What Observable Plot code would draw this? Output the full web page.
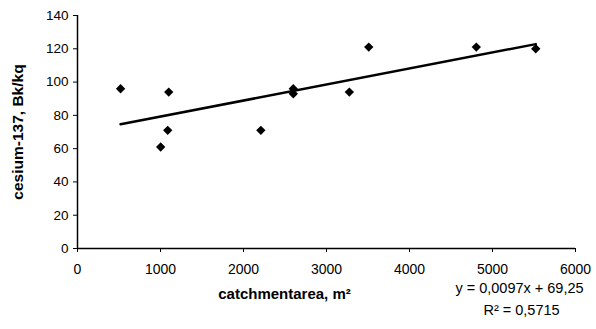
<!DOCTYPE html>
<html><head><meta charset="utf-8">
<script src="https://cdn.jsdelivr.net/npm/d3@7"></script>
<script src="https://cdn.jsdelivr.net/npm/@observablehq/plot@0.6"></script>
<style>body{margin:0;background:#fff}</style></head>
<body><div id="chart"></div>
<script>
const area = [519, 1099, 1087, 1002, 2209, 2600, 2600, 3275, 3509, 4805, 5521];
const cesium = [96, 94, 71, 61, 71, 96, 93, 94, 121, 121, 120];
const xTicks = [0, 1000, 2000, 3000, 4000, 5000, 6000];
const yTicks = [0, 20, 40, 60, 80, 100, 120, 140];
const xLabel = "catchmentarea, m²";
const yLabel = "cesium-137, Bk/kq";
const equation = ["y = 0,0097x + 69,25", "R² = 0,5715"];

const data = area.map((a, i) => ({area: a, cesium: cesium[i]}));

const chart = Plot.plot({
  width: 596, height: 329,
  marginLeft: 77, marginRight: 21, marginTop: 15, marginBottom: 81,
  style: {fontFamily: "'Liberation Sans', Arial, sans-serif", fontSize: "13px", background: "#fff", color: "#000"},
  x: {domain: [0, 6000]},
  y: {domain: [0, 140]},
  marks: [
    Plot.axisX({ticks: xTicks, tickSize: 4, tickPadding: 12, tickFormat: d3.format("d"), label: null, stroke: "#000", fontSize: 14}),
    Plot.axisY({ticks: yTicks, tickSize: 4, tickPadding: 5, label: null, stroke: "#000", fontSize: 13.5}),
    Plot.ruleY([0], {stroke: "#000", strokeWidth: 1.5}),
    Plot.ruleX([0], {stroke: "#000", strokeWidth: 1.5}),
    Plot.linearRegressionY(data, {x: "area", y: "cesium", ci: 0, stroke: "#000", strokeWidth: 2.5}),
    Plot.dot(data, {x: "area", y: "cesium", symbol: "diamond2", r: 4.2, fill: "#000", stroke: "none"}),
    Plot.text([yLabel], {text: d => d, frameAnchor: "left", dx: -59, rotate: -90, textAnchor: "middle", fontWeight: "bold", fontSize: 15.5}),
    Plot.text([xLabel], {text: d => d, frameAnchor: "bottom", dx: -42, dy: 50, textAnchor: "middle", fontWeight: "bold", fontSize: 15}),
    Plot.text([equation[0]], {text: d => d, frameAnchor: "bottom-right", dx: -56, dy: 44, textAnchor: "middle", fontSize: 14.5}),
    Plot.text([equation[1]], {text: d => d, frameAnchor: "bottom-right", dx: -54, dy: 66, textAnchor: "middle", fontSize: 14.5})
  ]
});
document.getElementById("chart").append(chart);
</script>
</body></html>
